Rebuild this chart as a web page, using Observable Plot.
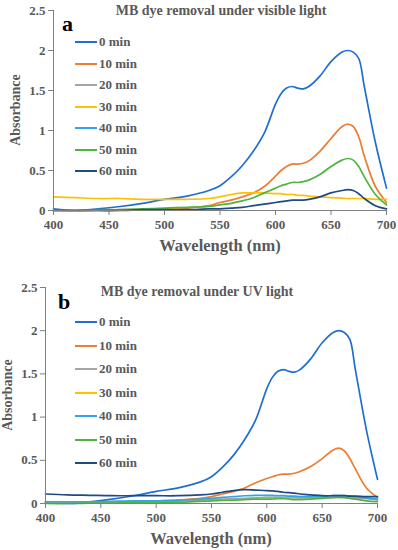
<!DOCTYPE html>
<html>
<head>
<meta charset="utf-8">
<script src="https://cdn.jsdelivr.net/npm/d3@7"></script>
<script src="https://cdn.jsdelivr.net/npm/@observablehq/plot@0.6"></script>
<style>
  html, body { margin: 0; padding: 0; background: #fff; }
  #wrap { position: relative; width: 398px; height: 550px; overflow: hidden; font-family: "Liberation Serif", "Times New Roman", Times, "Noto Serif", "DejaVu Serif", serif; font-weight: bold; }
  .panel { position: absolute; left: 0; }
  .t { position: absolute; white-space: nowrap; color: #595959; font-weight: bold; line-height: 1; }
  .lab { position: absolute; color: #000; font-weight: bold; font-size: 22px; line-height: 1; }
  .ylab { position: absolute; color: #595959; font-size: 14px; transform: translate(-50%,-50%) rotate(-90deg); white-space: nowrap; }
  .xlab { position: absolute; color: #595959; font-size: 16.5px; transform: translate(-50%,-50%); white-space: nowrap; }
  .leg { position: absolute; display: flex; align-items: center; font-size: 13px; color: #595959; transform: translateY(-50%); }
  .leg span.sw { display: inline-block; width: 22px; height: 2px; margin-right: 2px; }
</style>
</head>
<body>
<div id="wrap"></div>
<script>
// ---------- data ----------
const wavelengths = [400,420,440,460,480,500,520,540,550,560,570,580,590,600,605,610,615,620,625,630,640,650,660,665,670,675,680,690,700];
const seriesNames = ["0 min","10 min","20 min","30 min","40 min","50 min","60 min"];
const seriesColors = ["#1f6fd2","#ed7d31","#a5a5a5","#ffc000","#35a3e6","#4db53c","#1f4a82"];
const xTicks = [400,450,500,550,600,650,700];
const yTicks = [0,0.5,1,1.5,2,2.5];

// 0 min (same sample for both panels)
const abs0 = [0.02,0.0,0.02,0.05,0.09,0.14,0.18,0.25,0.31,0.42,0.56,0.74,0.97,1.33,1.46,1.53,1.55,1.53,1.52,1.55,1.68,1.86,1.98,2.0,1.98,1.9,1.55,0.85,0.28];

// Panel a: visible light
const visible10 = [0.0,0.0,0.0,0.01,0.01,0.02,0.03,0.06,0.1,0.13,0.17,0.22,0.3,0.43,0.5,0.55,0.58,0.58,0.59,0.62,0.74,0.9,1.05,1.08,1.05,0.92,0.68,0.3,0.1];
const visible30 = [0.17,0.16,0.15,0.15,0.14,0.14,0.14,0.15,0.17,0.2,0.22,0.22,0.22,0.21,0.21,0.2,0.2,0.19,0.19,0.18,0.17,0.16,0.155,0.15,0.15,0.15,0.15,0.14,0.14];
const visible50 = [0.0,0.0,0.01,0.01,0.02,0.03,0.04,0.05,0.07,0.09,0.12,0.16,0.22,0.28,0.31,0.33,0.35,0.35,0.36,0.38,0.45,0.55,0.63,0.65,0.63,0.55,0.42,0.2,0.07];
const visible60 = [0.0,0.0,0.0,0.0,0.01,0.01,0.01,0.02,0.02,0.03,0.04,0.06,0.08,0.1,0.11,0.12,0.13,0.13,0.13,0.14,0.17,0.22,0.25,0.26,0.25,0.21,0.15,0.06,0.02];

// Panel b: UV light
const uv10 = [0.01,0.01,0.01,0.01,0.02,0.03,0.04,0.06,0.08,0.11,0.14,0.18,0.24,0.29,0.31,0.33,0.34,0.34,0.35,0.37,0.43,0.52,0.62,0.64,0.61,0.52,0.4,0.18,0.07];
const uv20 = [0.01,0.01,0.01,0.015,0.02,0.02,0.03,0.04,0.045,0.05,0.055,0.06,0.065,0.07,0.07,0.07,0.07,0.068,0.066,0.065,0.066,0.07,0.072,0.072,0.07,0.068,0.065,0.055,0.04];
const uv40 = [0.02,0.02,0.02,0.025,0.03,0.03,0.04,0.05,0.06,0.07,0.08,0.09,0.095,0.095,0.093,0.09,0.09,0.085,0.085,0.08,0.08,0.085,0.09,0.09,0.09,0.085,0.08,0.065,0.05];
const uv50 = [0.0,0.0,0.005,0.005,0.01,0.01,0.015,0.025,0.03,0.035,0.04,0.045,0.05,0.05,0.052,0.055,0.055,0.05,0.045,0.045,0.05,0.06,0.068,0.07,0.068,0.06,0.05,0.03,0.02];
const uv60 = [0.11,0.1,0.095,0.09,0.09,0.09,0.09,0.1,0.11,0.13,0.15,0.16,0.155,0.15,0.145,0.14,0.13,0.125,0.12,0.11,0.1,0.09,0.09,0.09,0.09,0.085,0.085,0.08,0.08];

const panelA = [["0 min", abs0],["10 min", visible10],["30 min", visible30],["50 min", visible50],["60 min", visible60]];
const panelB = [["0 min", abs0],["10 min", uv10],["20 min", uv20],["40 min", uv40],["50 min", uv50],["60 min", uv60]];

const FONT = "'Liberation Serif', 'Times New Roman', Times, 'Noto Serif', 'DejaVu Serif', serif";

function toRows(panel) {
  const rows = [];
  for (const [name, vals] of panel) {
    vals.forEach((v, i) => rows.push({series: name, wl: wavelengths[i], abs: v}));
  }
  return rows;
}

function makePlot(rows, opts) {
  return Plot.plot({
    width: 398,
    height: opts.height,
    marginLeft: opts.ml,
    marginRight: opts.mr,
    marginTop: opts.mt,
    marginBottom: opts.mb,
    style: {fontFamily: FONT, fontWeight: "bold", fontSize: "13px", color: "#595959", background: "transparent"},
    x: {domain: [400, 700]},
    y: {domain: [0, 2.5]},
    color: {domain: seriesNames, range: seriesColors},
    marks: [
      Plot.axisY({ticks: yTicks, tickFormat: d => String(d), tickSize: 5, tickPadding: 3, label: null, stroke: "#7f7f7f"}),
      Plot.axisX({ticks: xTicks, tickFormat: d => String(d), tickSize: 5, tickPadding: 4, label: null, stroke: "#7f7f7f"}),
      Plot.line(rows, {x: "wl", y: "abs", z: "series", stroke: "series", curve: "catmull-rom", strokeWidth: 1.7}),
      Plot.ruleX([400], {stroke: "#7f7f7f"}),
      Plot.ruleY([0], {stroke: "#7f7f7f"})
    ]
  });
}

const wrap = document.getElementById("wrap");

function addPanel(top, rows, opts, title, titleX, titleY, letter, lx, ly, ylabX, legendY0, legendDy, xlabX, xlabY) {
  const div = document.createElement("div");
  div.className = "panel";
  div.style.top = top + "px";
  div.appendChild(makePlot(rows, opts));
  wrap.appendChild(div);

  const t = document.createElement("div");
  t.className = "t";
  t.style.fontSize = "14px";
  t.textContent = title;
  t.style.left = titleX + "px"; t.style.top = titleY + "px";
  t.style.transform = "translate(-50%,-50%)";
  wrap.appendChild(t);

  const l = document.createElement("div");
  l.className = "lab";
  l.textContent = letter;
  l.style.left = lx + "px"; l.style.top = ly + "px";
  l.style.transform = "translateY(-50%)";
  wrap.appendChild(l);

  const yl = document.createElement("div");
  yl.className = "ylab";
  yl.textContent = "Absorbance";
  yl.style.left = ylabX + "px";
  yl.style.top = (top + opts.mt + (opts.height - opts.mt - opts.mb) / 2) + "px";
  wrap.appendChild(yl);

  const xl = document.createElement("div");
  xl.className = "xlab";
  xl.textContent = "Wavelength (nm)";
  xl.style.left = xlabX + "px"; xl.style.top = xlabY + "px";
  wrap.appendChild(xl);

  seriesNames.forEach((n, i) => {
    const g = document.createElement("div");
    g.className = "leg";
    g.style.left = "75px";
    g.style.top = (legendY0 + i * legendDy) + "px";
    const sw = document.createElement("span");
    sw.className = "sw";
    sw.style.background = seriesColors[i];
    g.appendChild(sw);
    const tx = document.createElement("span");
    tx.textContent = n;
    g.appendChild(tx);
    wrap.appendChild(g);
  });
}

addPanel(0, toRows(panelA), {height: 262, ml: 53, mr: 12, mt: 10, mb: 52},
  "MB dye removal under visible light", 221, 11, "a", 62, 24, 16, 42, 21.5, 220, 246);
addPanel(270, toRows(panelB), {height: 280, ml: 45, mr: 21, mt: 17, mb: 47},
  "MB dye removal under UV light", 197, 292, "b", 58, 302, 8, 322, 23.5, 211, 539);
</script>
</body>
</html>
